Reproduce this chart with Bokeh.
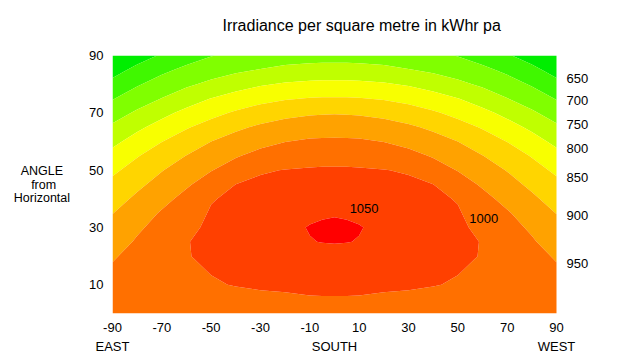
import numpy as np
from bokeh.plotting import figure
from bokeh.models import Range1d, FixedTicker, LinearAxis, LabelSet, ColumnDataSource, Title
from bokeh.core.properties import value
from bokeh.embed import file_html
from bokeh.resources import INLINE

# ---- data (irradiance, kWh per m2 per year) ----
azimuth = [-90, -80, -70, -60, -50, -40, -30, -20, -10, -5, 0, 5, 10, 20, 30, 40, 50, 60, 70, 80, 90]
tilt = [0, 10, 20, 25, 30, 35, 40, 45, 50, 55, 60, 65, 70, 75, 80, 85, 90]

irr_t0 = [983, 983, 983, 983, 983, 983, 983, 983, 983, 983, 983, 983, 983, 983, 983, 983, 983, 983, 983, 983, 983]
irr_t10 = [965, 976, 986, 992, 998, 1001, 1004, 1006, 1010, 1011, 1011, 1011, 1010, 1006, 1004, 1001, 998, 992, 986, 976, 965]
irr_t20 = [946, 963, 982, 999, 1004, 1010, 1018, 1024, 1025, 1030, 1031, 1030, 1025, 1024, 1018, 1010, 1004, 999, 982, 963, 946]
irr_t25 = [929, 955, 975, 999, 1006, 1014, 1025, 1033, 1048, 1051.5, 1053, 1051.5, 1048, 1033, 1025, 1014, 1006, 999, 975, 955, 929]
irr_t30 = [914, 943, 966, 995, 1004, 1016, 1028, 1038, 1052.5, 1056, 1057.5, 1056, 1052.5, 1038, 1028, 1016, 1004, 995, 966, 943, 914]
irr_t35 = [899, 926, 955, 985, 1003, 1011, 1021, 1029, 1041, 1045, 1047, 1045, 1041, 1029, 1021, 1011, 1003, 985, 955, 926, 899]
irr_t40 = [880, 909, 936, 964, 998, 1006, 1013, 1020, 1028, 1032, 1033, 1032, 1028, 1020, 1013, 1006, 998, 964, 936, 909, 880]
irr_t45 = [862, 890, 917, 944, 972, 1000.5, 1006, 1010, 1016, 1018, 1019, 1018, 1016, 1010, 1006, 1000.5, 972, 944, 917, 890, 862]
irr_t50 = [841, 869, 898, 923, 948, 974, 997, 1001, 1004, 1005, 1005, 1005, 1004, 1001, 997, 974, 948, 923, 898, 869, 841]
irr_t55 = [815, 847, 874, 901, 924, 946, 964, 976, 982, 984, 984, 984, 982, 976, 964, 946, 924, 901, 874, 847, 815]
irr_t60 = [788, 819, 849, 874, 900, 919, 937, 949, 956, 957, 958, 957, 956, 949, 937, 919, 900, 874, 849, 819, 788]
irr_t65 = [758, 790, 819, 846, 869, 891, 908, 920, 927, 928, 928, 928, 927, 920, 908, 891, 869, 846, 819, 790, 758]
irr_t70 = [728, 757, 786, 813, 836, 856, 873, 886, 894, 896, 897, 896, 894, 886, 873, 856, 836, 813, 786, 757, 728]
irr_t75 = [697, 726, 751, 777, 801, 819, 835, 846, 852, 854, 854, 854, 852, 846, 835, 819, 801, 777, 751, 726, 697]
irr_t80 = [664, 695, 721, 742, 761, 780, 795, 805, 811, 812, 812, 812, 811, 805, 795, 780, 761, 742, 721, 695, 664]
irr_t85 = [632, 662, 689, 711, 728, 741, 752, 761, 766, 768, 768, 768, 766, 761, 752, 741, 728, 711, 689, 662, 632]
irr_t90 = [599, 629, 655, 678, 698, 712, 721, 728, 731, 732, 732, 732, 731, 728, 721, 712, 698, 678, 655, 629, 599]

levels = [550, 650, 700, 750, 800, 850, 900, 950, 1000, 1050, 1100]
band_colors = ["#00EE00", "#40F800", "#80FF00", "#C0FF00", "#F8FF00", "#FFD500",
               "#FFA200", "#FF7000", "#FF4000", "#FF0000"]
edge_label_levels = [650, 700, 750, 800, 850, 900, 950]

inner_label_text = ["1050", "1000"]
inner_label_az = [12, 60.5]
inner_label_tilt = [36.5, 33]

x_ticks = [-90, -70, -50, -30, -10, 10, 30, 50, 70, 90]
y_ticks = [10, 30, 50, 70, 90]
compass = {-90: "EAST", 0: "SOUTH", 90: "WEST"}

title_text = "Irradiance per square metre in kWhr pa"
y_label_lines = ["ANGLE", "from", "Horizontal"]

# ---- build ----
Z = np.array([irr_t0, irr_t10, irr_t20, irr_t25, irr_t30, irr_t35, irr_t40, irr_t45,
              irr_t50, irr_t55, irr_t60, irr_t65, irr_t70, irr_t75, irr_t80, irr_t85,
              irr_t90], dtype=float)
AZ = np.array(azimuth, dtype=float)
TL = np.array(tilt, dtype=float)

FONT = "Liberation Sans"
PX_PER_DEG = 444 / 180.0
FRAME_W = 484                      # extra room right of az=90 for the level labels
X_END = -90 + FRAME_W / PX_PER_DEG

p = figure(frame_width=FRAME_W, frame_height=258,
           x_range=Range1d(-90, X_END), y_range=Range1d(0, 90),
           output_backend="svg", toolbar_location=None,
           min_border_left=112, min_border_right=33, min_border_top=55, min_border_bottom=49,
           background_fill_color="white", border_fill_color="white",
           outline_line_color=None)
p.grid.visible = False

p.contour(AZ, TL, Z, levels, fill_color=band_colors)

# title: a blank spacer band next to the frame, the real title above it
p.title.text = ""
p.add_layout(Title(text="\u00a0", text_font=FONT, text_font_size="16px", standoff=3), "above")
p.add_layout(Title(text=title_text, text_font=FONT, text_font_size="16px",
                   text_font_style="normal", text_color="black",
                   align="left", offset=110, standoff=0, vertical_align="bottom"), "above")

def style_axis(ax):
    ax.axis_line_color = None
    ax.major_tick_line_color = None
    ax.minor_tick_line_color = None
    ax.major_tick_out = 0
    ax.major_tick_in = 0
    ax.minor_tick_out = 0
    ax.minor_tick_in = 0
    ax.major_label_text_font = FONT
    ax.major_label_text_font_size = "13px"
    ax.major_label_text_color = "black"

xa = p.xaxis[0]
xa.ticker = FixedTicker(ticks=x_ticks)
xa.major_label_overrides = {t: str(t) for t in x_ticks}
style_axis(xa)
xa.major_label_standoff = 9

xa2 = LinearAxis(ticker=FixedTicker(ticks=list(compass.keys())),
                 major_label_overrides=compass)
style_axis(xa2)
xa2.major_label_standoff = 4
p.add_layout(xa2, "below")

# lines of the axis title are right aligned by Bokeh; pad with no-break spaces to centre them
pad = {"ANGLE": 2, "from": 4, "Horizontal": 0}
y_label_text = "\n".join(s + "\u00a0" * pad[s] for s in y_label_lines)

ya = p.yaxis[0]
ya.ticker = FixedTicker(ticks=y_ticks)
ya.major_label_overrides = {t: str(t) for t in y_ticks}
style_axis(ya)
ya.major_label_standoff = 9
ya.axis_label = y_label_text
ya.axis_label_orientation = "horizontal"
ya.axis_label_text_font = FONT
ya.axis_label_text_font_size = "12.5px"
ya.axis_label_text_font_style = "normal"
ya.axis_label_text_color = "black"
ya.axis_label_text_line_height = 0.95
ya.axis_label_standoff = 16

# contour labels at the west edge (where each level meets az = 90)
west_col = Z[:, -1]
cross = [float(np.interp(lv, west_col[::-1], TL[::-1])) for lv in edge_label_levels]
edge_src = ColumnDataSource(dict(x=[90] * len(edge_label_levels), y=cross,
                                 text=[str(v) for v in edge_label_levels]))
p.add_layout(LabelSet(source=edge_src, x="x", y="y", text="text", x_offset=10, y_offset=-1,
                      text_font=value(FONT), text_font_size=value("13px"), text_color="black",
                      text_align="left", text_baseline="middle"))

inner_src = ColumnDataSource(dict(x=inner_label_az, y=inner_label_tilt, text=inner_label_text))
p.add_layout(LabelSet(source=inner_src, x="x", y="y", text="text",
                      text_font=value(FONT), text_font_size=value("13px"), text_color="black",
                      text_align="center", text_baseline="middle"))

open("out.html", "w").write(file_html(p, INLINE))
